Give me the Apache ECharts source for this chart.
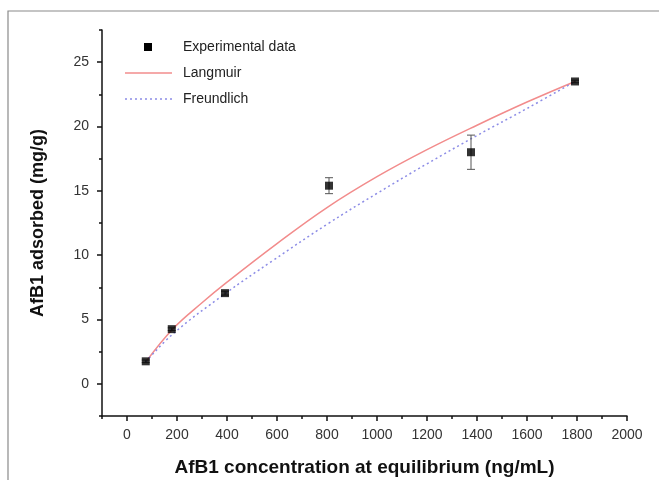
<!DOCTYPE html>
<html><head><meta charset="utf-8">
<script src="https://cdn.jsdelivr.net/npm/echarts@6/dist/echarts.min.js"></script>
<style>html,body{margin:0;padding:0;background:#fff}#c{width:659px;height:480px}</style>
</head><body><div id="c"></div>
<script>
// Experimental data
const expX = [75, 179, 392, 808, 1376, 1792];
const expY = [1.75, 4.25, 7.05, 15.4, 18.0, 23.5];
const expErr = [0.1, 0.1, 0.15, 0.62, 1.33, 0.1];
// Langmuir fit
const langX = [75, 185, 300, 400, 600, 800, 1000, 1200, 1400, 1600, 1792];
const langY = [1.7, 4.3, 6.3, 7.9, 10.9, 13.7, 16.1, 18.2, 20.1, 21.9, 23.5];
// Freundlich fit
const freuX = [75, 185, 392, 585, 800, 1000, 1200, 1400, 1600, 1792];
const freuY = [1.7, 3.9, 7.0, 9.6, 12.4, 14.8, 17.1, 19.3, 21.4, 23.5];
// ticks
const xMajor = [0, 200, 400, 600, 800, 1000, 1200, 1400, 1600, 1800, 2000];
const xMinor = [-100, 100, 300, 500, 700, 900, 1100, 1300, 1500, 1700, 1900];
const yMajor = [0, 5, 10, 15, 20, 25];
const yMinor = [-2.5, 2.5, 7.5, 12.5, 17.5, 22.5, 27.5];
// legend labels
const legendNames = ['Experimental data', 'Langmuir', 'Freundlich'];

const font = '"Liberation Sans", Arial, sans-serif';
const redC = '#f28c8c', blueC = '#8c8ce6';
const chart = echarts.init(document.getElementById('c'));
const axisLine = {show: true, onZero: false, lineStyle: {color: '#111', width: 1.5}};
const lgText = (y, t) => ({type: 'text', x: 183, y: y, style: {text: t, font: '14px ' + font, fill: '#222', verticalAlign: 'middle'}});
chart.setOption({
  animation: false,
  graphic: [
    {type: 'rect', shape: {x: 8, y: 11, width: 700, height: 520}, style: {fill: 'none', stroke: '#8a8a8a', lineWidth: 1.2}, z: -1},
    {type: 'rect', shape: {x: 144, y: 43, width: 8, height: 8}, style: {fill: '#000'}},
    lgText(47, legendNames[0]),
    {type: 'line', shape: {x1: 125, y1: 73, x2: 172, y2: 73}, style: {stroke: redC, lineWidth: 1.5}},
    lgText(73, legendNames[1]),
    {type: 'line', shape: {x1: 125, y1: 99, x2: 172, y2: 99}, style: {stroke: blueC, lineWidth: 1.5, lineDash: [2, 3]}},
    lgText(99, legendNames[2])
  ],
  grid: {left: 102, right: 32, top: 30, bottom: 64, outerBoundsMode: 'none', containLabel: false},
  xAxis: [{
    type: 'value', min: -100, max: 2000,
    name: 'AfB1 concentration at equilibrium (ng/mL)', nameLocation: 'middle', nameGap: 42,
    nameTextStyle: {fontFamily: font, fontSize: 19, fontWeight: 'bold', color: '#111'},
    axisLine: axisLine, splitLine: {show: false},
    axisTick: {show: true, length: 5, customValues: xMajor, lineStyle: {color: '#111', width: 1.5}},
    axisLabel: {customValues: xMajor, formatter: v => String(v), fontFamily: font, fontSize: 14, color: '#333', margin: 12}
  }, {
    type: 'value', min: -100, max: 2000, position: 'bottom',
    axisLine: {show: false, onZero: false}, splitLine: {show: false},
    axisTick: {show: true, length: 3, customValues: xMinor, lineStyle: {color: '#111', width: 1.5}},
    axisLabel: {show: false}
  }],
  yAxis: [{
    type: 'value', min: -2.5, max: 27.5,
    name: 'AfB1 adsorbed (mg/g)', nameLocation: 'middle', nameGap: 55,
    nameTextStyle: {fontFamily: font, fontSize: 18, fontWeight: 'bold', color: '#111'},
    axisLine: axisLine, splitLine: {show: false},
    axisTick: {show: true, length: 5, customValues: yMajor, lineStyle: {color: '#111', width: 1.5}},
    axisLabel: {customValues: yMajor, formatter: v => String(v), fontFamily: font, fontSize: 14, color: '#333', margin: 13}
  }, {
    type: 'value', min: -2.5, max: 27.5, position: 'left',
    axisLine: {show: false, onZero: false}, splitLine: {show: false},
    axisTick: {show: true, length: 3, customValues: yMinor, lineStyle: {color: '#111', width: 1.5}},
    axisLabel: {show: false}
  }],
  series: [
    {name: legendNames[1], type: 'line', smooth: 0.4, symbol: 'none',
     lineStyle: {color: redC, width: 1.5}, itemStyle: {color: redC},
     data: langX.map((x, i) => [x, langY[i]]), z: 2},
    {name: legendNames[2], type: 'line', smooth: 0.4, symbol: 'none',
     lineStyle: {color: blueC, width: 1.5, type: [2, 3]}, itemStyle: {color: blueC},
     data: freuX.map((x, i) => [x, freuY[i]]), z: 2},
    {name: 'errors', type: 'custom', z: 3,
     data: expX.map((x, i) => [x, expY[i] - expErr[i], expY[i] + expErr[i]]),
     renderItem: function (params, api) {
       const lo = api.coord([api.value(0), api.value(1)]);
       const hi = api.coord([api.value(0), api.value(2)]);
       const w = 4;
       const st = {stroke: '#555', lineWidth: 1};
       return {type: 'group', children: [
         {type: 'line', shape: {x1: lo[0], y1: lo[1], x2: hi[0], y2: hi[1]}, style: st},
         {type: 'line', shape: {x1: lo[0] - w, y1: lo[1], x2: lo[0] + w, y2: lo[1]}, style: st},
         {type: 'line', shape: {x1: hi[0] - w, y1: hi[1], x2: hi[0] + w, y2: hi[1]}, style: st}
       ]};
     }},
    {name: legendNames[0], type: 'scatter', symbol: 'rect', symbolSize: 8,
     itemStyle: {color: '#000'}, data: expX.map((x, i) => [x, expY[i]]), z: 4}
  ]
});
</script></body></html>
